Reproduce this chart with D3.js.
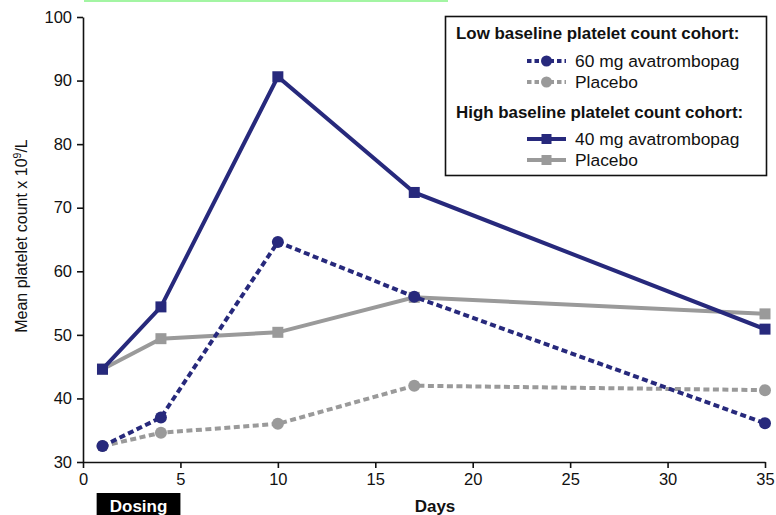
<!DOCTYPE html>
<html>
<head>
<meta charset="utf-8">
<script src="https://cdn.jsdelivr.net/npm/d3@7"></script>
<style>
  body { margin: 0; background: #fff; }
  text { font-family: "Liberation Sans", Arial, sans-serif; fill: #111; }
</style>
</head>
<body>
<div id="chart"></div>
<script>
// data
var days = [1, 4, 10, 17, 35];
var low60mg = [32.5, 37.0, 64.6, 56.0, 36.1];
var lowPlacebo = [32.5, 34.6, 36.0, 42.0, 41.3];
var high40mg = [44.6, 54.4, 90.6, 72.4, 50.9];
var highPlacebo = [44.6, 49.4, 50.4, 55.9, 53.3];
var xTicks = [0, 5, 10, 15, 20, 25, 30, 35];
var yTicks = [30, 40, 50, 60, 70, 80, 90, 100];
var dosingDays = [0.7, 5];

var navy = "#27297c";
var grey = "#9a9a9a";

var series = [
  {name: "Placebo", values: lowPlacebo, color: grey, dashed: true, marker: "circle"},
  {name: "Placebo", values: highPlacebo, color: grey, dashed: false, marker: "square"},
  {name: "60 mg avatrombopag", values: low60mg, color: navy, dashed: true, marker: "circle"},
  {name: "40 mg avatrombopag", values: high40mg, color: navy, dashed: false, marker: "square"}
];

var width = 776, height = 515;
var margin = {top: 17, right: 11, bottom: 53, left: 83};

var svg = d3.select("#chart").append("svg")
    .attr("width", width)
    .attr("height", height);

// thin green strip at the very top of the reference
svg.append("rect")
    .attr("x", 84).attr("y", 0)
    .attr("width", 364).attr("height", 2)
    .attr("fill", "#a3f5a3");

var x = d3.scaleLinear().domain([0, 35]).range([margin.left, width - margin.right]);
var y = d3.scaleLinear().domain([30, 100]).range([height - margin.bottom, margin.top]);

// axes
var xAxis = svg.append("g")
    .attr("transform", "translate(0," + y(30) + ")")
    .call(d3.axisBottom(x).tickValues(xTicks).tickSize(6).tickPadding(5).tickSizeOuter(0));
var yAxis = svg.append("g")
    .attr("transform", "translate(" + x(0) + ",0)")
    .call(d3.axisLeft(y).tickValues(yTicks).tickSize(6).tickPadding(5).tickSizeOuter(0));

[xAxis, yAxis].forEach(function(g) {
  g.select(".domain").attr("stroke", "#111").attr("stroke-width", 1.6);
  g.selectAll(".tick line").attr("stroke", "#111").attr("stroke-width", 1.6);
  g.selectAll(".tick text").style("font-size", "16.5px").attr("fill", "#111");
});

// axis titles
svg.append("text")
    .attr("transform", "translate(27," + 236 + ") rotate(-90)")
    .attr("text-anchor", "middle")
    .style("font-size", "16px")
    .html("Mean platelet count x 10<tspan dy='-6' font-size='10.5px'>9</tspan><tspan dy='6'>/L</tspan>");

svg.append("text")
    .attr("x", 435).attr("y", 512)
    .attr("text-anchor", "middle")
    .style("font-size", "17px")
    .style("font-weight", "bold")
    .text("Days");

// dosing bar
svg.append("rect")
    .attr("x", x(dosingDays[0])).attr("y", 493)
    .attr("width", x(dosingDays[1]) - x(dosingDays[0]))
    .attr("height", 22)
    .attr("fill", "#000");
svg.append("text")
    .attr("x", (x(dosingDays[0]) + x(dosingDays[1])) / 2).attr("y", 512)
    .attr("text-anchor", "middle")
    .style("font-size", "17px")
    .style("font-weight", "bold")
    .style("fill", "#fff")
    .text("Dosing");

// lines and markers
var line = d3.line()
    .x(function(d, i) { return x(days[i]); })
    .y(function(d) { return y(d); });

function drawMarker(g, type, cx, cy, color, size) {
  if (type === "circle") {
    g.append("circle").attr("cx", cx).attr("cy", cy).attr("r", size / 2).attr("fill", color);
  } else {
    g.append("rect").attr("x", cx - size / 2).attr("y", cy - size / 2)
      .attr("width", size).attr("height", size).attr("fill", color);
  }
}

series.forEach(function(s) {
  var g = svg.append("g");
  g.append("path")
      .datum(s.values)
      .attr("d", line)
      .attr("fill", "none")
      .attr("stroke", s.color)
      .attr("stroke-width", 4)
      .attr("stroke-dasharray", s.dashed ? "6,3.5" : null);
  s.values.forEach(function(v, i) {
    drawMarker(g, s.marker, x(days[i]), y(v), s.color, s.marker === "circle" ? 12 : 11);
  });
});

// legend
var legend = svg.append("g");
legend.append("rect")
    .attr("x", 445.5).attr("y", 16.5)
    .attr("width", 321).attr("height", 159)
    .attr("fill", "#fff")
    .attr("stroke", "#111")
    .attr("stroke-width", 1.6);

var legendRows = [
  {title: "Low baseline platelet count cohort:", y: 39},
  {item: series[2], label: "60 mg avatrombopag", y: 61},
  {item: series[0], label: "Placebo", y: 82},
  {title: "High baseline platelet count cohort:", y: 118},
  {item: series[3], label: "40 mg avatrombopag", y: 139},
  {item: series[1], label: "Placebo", y: 160}
];

legendRows.forEach(function(r) {
  if (r.title) {
    legend.append("text")
        .attr("x", 456).attr("y", r.y)
        .style("font-size", "16.9px")
        .style("font-weight", "bold")
        .text(r.title);
  } else {
    legend.append("line")
        .attr("x1", 527).attr("x2", 566)
        .attr("y1", r.y).attr("y2", r.y)
        .attr("stroke", r.item.color)
        .attr("stroke-width", 4)
        .attr("stroke-dasharray", r.item.dashed ? "4.5,3" : null);
    drawMarker(legend, r.item.marker, 546.5, r.y, r.item.color, r.item.marker === "circle" ? 11 : 10);
    legend.append("text")
        .attr("x", 575).attr("y", r.y + 6)
        .style("font-size", "17.4px")
        .text(r.label);
  }
});
</script>
</body>
</html>
